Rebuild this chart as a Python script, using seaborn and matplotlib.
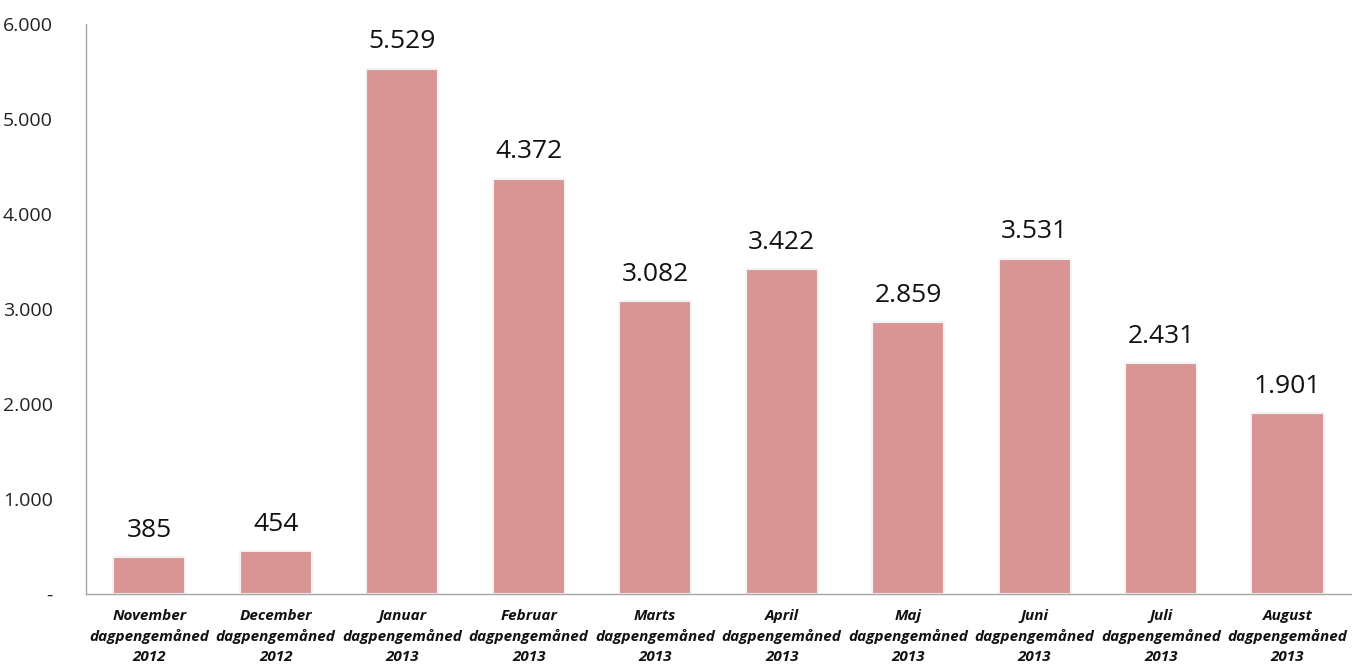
import matplotlib
matplotlib.use('Agg')
import matplotlib.pyplot as plt
import seaborn as sns
import pandas as pd

months = ['November', 'December', 'Januar', 'Februar', 'Marts', 'April', 'Maj', 'Juni', 'Juli', 'August']
years = ['2012', '2012', '2013', '2013', '2013', '2013', '2013', '2013', '2013', '2013']
values = [385, 454, 5529, 4372, 3082, 3422, 2859, 3531, 2431, 1901]

labels = [f'{m}\ndagpengemåned\n{y}' for m, y in zip(months, years)]
df = pd.DataFrame({'label': labels, 'value': values})

sns.set_style('white')
plt.rcParams['font.family'] = ['Open Sans', 'DejaVu Sans']

fig = plt.figure(figsize=(13.57, 6.66), dpi=100)
ax = fig.add_axes([0.0634, 0.108, 0.932, 0.856])

sns.barplot(data=df, x='label', y='value', color='#D99594', width=0.57,
            saturation=1, edgecolor='#f4f4f4', linewidth=1.5, ax=ax)

for i, v in enumerate(values):
    ax.text(i, v + 150, f'{v:,}'.replace(',', '.'), ha='center', va='bottom',
            fontsize=19, color='#111111')

ax.set_ylim(0, 6000)
ax.set_xlim(-0.5, len(values) - 0.5)
ax.set_yticks(range(0, 6001, 1000))
ax.set_yticklabels(['-'] + [f'{t:,}'.replace(',', '.') for t in range(1000, 6001, 1000)],
                   fontsize=14, color='#222222')
ax.set_xticks(range(len(labels)))
ax.set_xticklabels(labels, fontsize=11, fontweight='bold', fontstyle='italic',
                   color='#111111', linespacing=1.5)
ax.tick_params(axis='both', length=0)
ax.tick_params(axis='y', pad=24)
ax.tick_params(axis='x', pad=11)
ax.set_xlabel('')
ax.set_ylabel('')

for s in ['top', 'right']:
    ax.spines[s].set_visible(False)
for s in ['left', 'bottom']:
    ax.spines[s].set_color('#a6a6a6')
    ax.spines[s].set_linewidth(1)

fig.savefig('out.png', dpi=100)
